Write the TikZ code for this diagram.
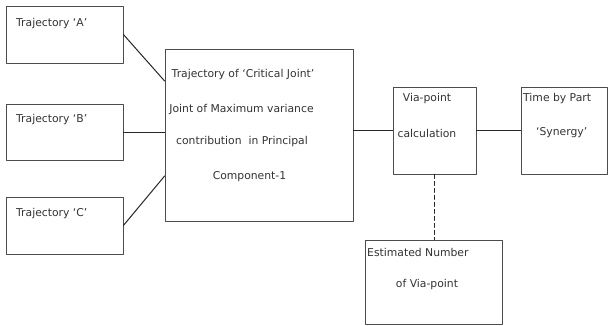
\documentclass[tikz,border=0pt]{standalone}
\usepackage{fontspec}
\setmainfont{DejaVu Sans}
\usetikzlibrary{positioning}

\tikzset{
  blockbox/.style={draw=black!70, line width=0.8pt, inner sep=0pt},
  lbl/.style={text=black!80, inner sep=0pt, font=\fontsize{10.8}{12}\selectfont},
  link/.style={draw=black!85, line width=1pt}
}

\begin{document}
\begin{tikzpicture}[x=1pt, y=-1pt, line cap=round, line join=round]

\useasboundingbox (0,0) rectangle (608,325);
\clip (0,0) rectangle (608,325);

% Trajectory boxes
\node[blockbox, minimum width=117pt, minimum height=57pt] (trajA) at (64.5,34.5) {};
\node[blockbox, minimum width=117pt, minimum height=56pt] (trajB) at (64.5,132) {};
\node[blockbox, minimum width=117pt, minimum height=57pt] (trajC) at (64.5,225.5) {};
\node[lbl, anchor=west] (tA) at (16,24) {Trajectory ‘A’};
\node[lbl, anchor=west] (tB) at (16,120) {Trajectory ‘B’};
\node[lbl, anchor=west] (tC) at (16,214) {Trajectory ‘C’};

% Critical joint box
\node[blockbox, minimum width=188pt, minimum height=172pt] (crit) at (259,135) {};
\node[lbl] (c1) at (243,75) {Trajectory of ‘Critical Joint’};
\node[lbl] (c2) at (241.5,109) {Joint of Maximum variance};
\node[lbl] (c3) at (242,142) {contribution\ \ in Principal};
\node[lbl] (c4) at (249.5,177) {Component-1};

% Via-point boxes
\node[blockbox, minimum width=83pt, minimum height=87pt] (via) at (434.5,130.5) {};
\node[lbl] (v1) at (427,99) {Via-point};
\node[lbl] (v2) at (427,133) {calculation};

\node[blockbox, minimum width=86pt, minimum height=87pt] (synergy) at (564,130.5) {};
\node[lbl, anchor=west] (s1) at (523,99) {Time by Part};
\node[lbl, anchor=west] (s2) at (536,133) {‘Synergy’};

\node[blockbox, minimum width=137pt, minimum height=84pt] (est) at (433.5,282) {};
\node[lbl, anchor=west] (e1) at (367,252) {Estimated Number};
\node[lbl] (e2) at (427,285) {of Via-point};

% Connectors
\draw[link] (trajA.east) -- ([yshift=54pt]crit.west);
\draw[link] (trajB.east) -- (trajB.east -| crit.west);
\draw[link] (trajC.east) -- ([yshift=-41pt]crit.west);
\draw[link] (via.west -| crit.east) -- (via.west);
\draw[link] (via.east) -- (synergy.west);
\draw[link, dashed, dash pattern=on 4pt off 3pt] (via.south) -- (via.south |- est.north);

\end{tikzpicture}
\end{document}
